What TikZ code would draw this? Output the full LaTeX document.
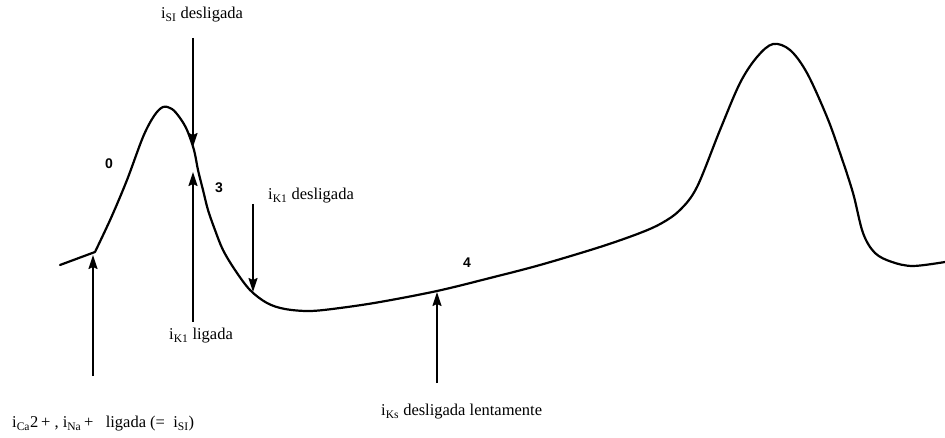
\documentclass[tikz,border=0pt]{standalone}
\usepackage{fontspec}
\setmainfont{Liberation Serif}
\newfontfamily\numfont{Liberation Sans}
\usetikzlibrary{arrows.meta}
\tikzset{
  curve/.style={line width=2.2pt, line join=round, line cap=round},
  arr/.style={line width=1.6pt, -{Stealth[length=14pt,width=9pt,inset=2pt]}},
  lbl/.style={font=\fontsize{16.5}{19}\selectfont, inner sep=0pt},
  num/.style={font=\numfont\bfseries\fontsize{14}{16}\selectfont, inner sep=0pt}
}
\begin{document}
\begin{tikzpicture}[x=1pt,y=-1pt]
\useasboundingbox (0,0) rectangle (945,438);
% action potential trace
\draw[curve] (60,265) -- (95,252)
  plot[smooth, tension=0.55] coordinates {(95,252) (111,218) (127,180) (143,137) (154,116) (163,107) (172,109) (180,118) (187,130) (194,150) (198,170) (203,190) (208,210) (215,230) (223,250) (235,270) (250,290) (267,303) (285,309) (310,311) (340,308) (380,302) (437,291) (490,278) (540,265) (600,247) (640,233) (662,223) (680,210) (697,187) (720,130) (740,83) (757,57) (773,44) (790,50) (807,73) (827,117) (840,153) (853,193) (863,233) (875,253) (892,262) (913,266) (945,262)};
% coordinates on the trace
\coordinate (tipA) at (193,147);
\coordinate (tipB) at (193,172);
\coordinate (tipC) at (253,292);
\coordinate (tipD) at (93,255);
\coordinate (tipE) at (437,292);
\coordinate (tailA) at (193,38);
\coordinate (tailB) at (193,322);
\coordinate (tailC) at (253,204);
\coordinate (tailD) at (93,376);
\coordinate (tailE) at (437,383);
% labels
\node[lbl] (lA) at (202,15) {i\textsubscript{SI} desligada};
\node[lbl, anchor=west] (lB) at (169,336) {i\textsubscript{K1} ligada};
\node[lbl, anchor=west] (lC) at (268,196) {i\textsubscript{K1} desligada};
\node[lbl, anchor=west] (lD) at (12,424) {i\textsubscript{Ca}2\,+\ , i\textsubscript{Na}\,+\ \ \ ligada\ (=\ \ i\textsubscript{SI})};
\node[lbl, anchor=west] (lE) at (381,412) {i\textsubscript{Ks} desligada lentamente};
\node[num] (n0) at (109,164) {0};
\node[num] (n3) at (219,188) {3};
\node[num] (n4) at (467,263) {4};
% arrows
\draw[arr] (tailA) -- (tipA);
\draw[arr] (tailB) -- (tipB);
\draw[arr] (tailC) -- (tipC);
\draw[arr] (tailD) -- (tipD);
\draw[arr] (tailE) -- (tipE);
\end{tikzpicture}
\end{document}
